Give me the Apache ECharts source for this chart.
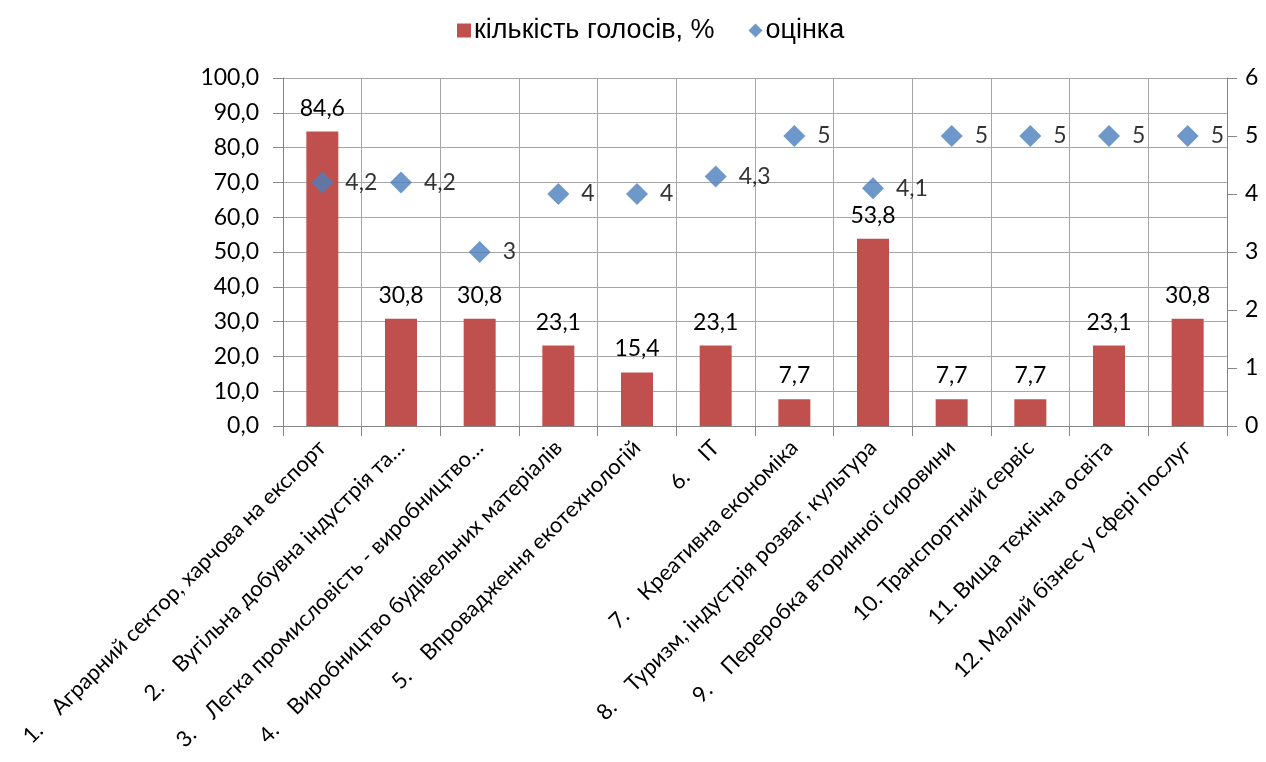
<!DOCTYPE html>
<html><head><meta charset="utf-8">
<script src="https://cdn.jsdelivr.net/npm/echarts@6/dist/echarts.min.js"></script>
<style>html,body{margin:0;padding:0;background:#fff}#c{width:1266px;height:762px}</style>
</head><body><div id="c"></div>
<script>
var T = '\u00a0\u00a0\u00a0\u00a0';
var categories = [
  '1.' + T + 'Аграрний сектор, харчова на експорт',
  '2.' + T + 'Вугільна добувна індустрія та…',
  '3.' + T + 'Легка промисловість - виробництво…',
  '4.' + T + 'Виробництво будівельних матеріалів',
  '5.' + T + 'Впровадження екотехнологій',
  '6.' + T + 'ІТ',
  '7.' + T + 'Креативна економіка',
  '8.' + T + 'Туризм, індустрія розваг, культура',
  '9.' + T + 'Переробка вторинної сировини',
  '10.\u00a0Транспортний сервіс',
  '11.\u00a0Вища технічна освіта',
  '12.\u00a0Малий бізнес у сфері послуг'
];
var votes = [84.6, 30.8, 30.8, 23.1, 15.4, 23.1, 7.7, 53.8, 7.7, 7.7, 23.1, 30.8];
var scores = [4.2, 4.2, 3, 4, 4, 4.3, 5, 4.1, 5, 5, 5, 5];
var seriesNames = ['кількість голосів, %', 'оцінка'];

var font = 'Lato, "Open Sans", sans-serif';
var fmt = function (p) { return String(p.value).replace('.', ','); };
var chart = echarts.init(document.getElementById('c'));
chart.setOption({
  animation: false,
  legend: {
    top: 12, left: 452, itemGap: 34, itemWidth: 14, itemHeight: 14,
    textStyle: {fontFamily: 'Liberation Sans, Arial', fontSize: 27, color: '#000', padding: [0, 0, 0, -2]},
    data: [{name: seriesNames[0], icon: 'rect'}, {name: seriesNames[1], icon: 'diamond'}]
  },
  grid: {left: 283, right: 39, top: 78, bottom: 336},
  xAxis: {
    type: 'category', data: categories,
    axisLine: {lineStyle: {color: '#868686'}},
    axisTick: {show: true, length: 10, lineStyle: {color: '#868686'}},
    splitLine: {show: true, lineStyle: {color: '#a6a6a6'}},
    axisLabel: {rotate: 45, interval: 0, margin: 18, fontFamily: font, fontSize: 22, color: '#000'}
  },
  yAxis: [{
    type: 'value', min: 0, max: 100, interval: 10,
    axisLine: {show: true, lineStyle: {color: '#868686'}},
    axisTick: {show: true, length: 10, lineStyle: {color: '#868686'}},
    splitLine: {show: true, lineStyle: {color: '#a6a6a6'}},
    axisLabel: {fontFamily: font, fontSize: 23, color: '#000', margin: 24,
      formatter: function (v) { return v.toFixed(1).replace('.', ','); }}
  }, {
    type: 'value', min: 0, max: 6, interval: 1, position: 'right',
    axisLine: {show: true, lineStyle: {color: '#868686'}},
    axisTick: {show: true, length: 10, lineStyle: {color: '#868686'}},
    splitLine: {show: false},
    axisLabel: {fontFamily: font, fontSize: 23, color: '#000', margin: 18}
  }],
  series: [{
    name: seriesNames[0], type: 'bar', data: votes, barWidth: 32,
    itemStyle: {color: '#C0504D'},
    label: {show: true, position: 'top', distance: 12, fontFamily: font, fontSize: 23, color: '#000', formatter: fmt}
  }, {
    name: seriesNames[1], type: 'scatter', yAxisIndex: 1, data: scores,
    symbol: 'diamond', symbolSize: 22,
    itemStyle: {color: '#4A7EBB'},
    label: {show: true, position: 'right', distance: 12, fontFamily: font, fontSize: 23, color: '#000', formatter: fmt}
  }]
});
</script></body></html>
